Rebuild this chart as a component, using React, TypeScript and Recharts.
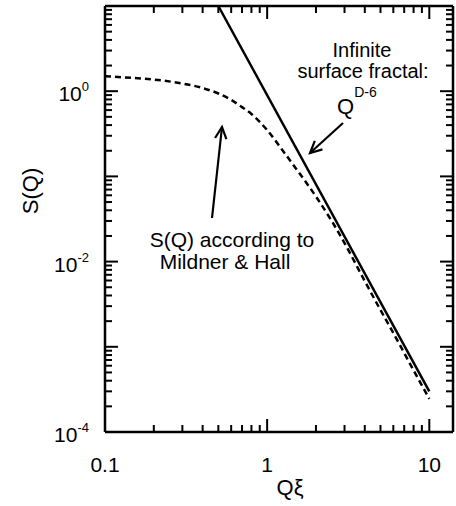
import * as R from 'recharts'
import { ComposedChart, Customized, Line, ReferenceLine, Scatter, XAxis, YAxis } from 'recharts'

// S(Q) after Mildner & Hall (dashed)
const dashQ = [0.1, 0.15, 0.2, 0.3, 0.4, 0.5, 0.6, 0.7, 0.8, 1.0, 1.25, 1.5, 2.0, 2.5, 3.0, 4.0, 5.0, 6.0, 8.0, 10]
const dashS = [1.5, 1.43, 1.37, 1.23, 1.09, 0.94, 0.79, 0.65, 0.54, 0.35, 0.2, 0.125, 0.058, 0.03, 0.0165, 0.0059, 0.0027, 0.00145, 0.00053, 0.000245]

// infinite surface fractal Q^(D-6), straight on log-log
const fractalQ = [0.5, 10]
const fractalS = [10, 0.0003]

const xTicks = [0.1, 0.2, 0.3, 0.4, 0.5, 0.6, 0.7, 0.8, 0.9, 1, 2, 3, 4, 5, 6, 7, 8, 9, 10]
const xLabels = [0.1, 1, 10]
const yTicks = [
  0.0001, 0.0002, 0.0003, 0.0004, 0.0005, 0.0006, 0.0007, 0.0008, 0.0009,
  0.001, 0.002, 0.003, 0.004, 0.005, 0.006, 0.007, 0.008, 0.009,
  0.01, 0.02, 0.03, 0.04, 0.05, 0.06, 0.07, 0.08, 0.09,
  0.1, 0.2, 0.3, 0.4, 0.5, 0.6, 0.7, 0.8, 0.9,
  1, 2, 3, 4, 5, 6, 7, 8, 9, 10,
]
const yLabels = [0.0001, 0.01, 1]

const X_DOMAIN = [0.1, 14]
const Y_DOMAIN = [0.0001, 10]

const dashData = dashQ.map((q, i) => ({ q, s: dashS[i] }))
const fractalData = fractalQ.map((q, i) => ({ q, s: fractalS[i] }))

const bottomTicks = xTicks.map((q) => ({ q, s: Y_DOMAIN[0], v: q }))
const topTicks = xTicks.map((q) => ({ q, s: Y_DOMAIN[1], v: q }))

const FONT = '"Liberation Sans", Arial, Helvetica, sans-serif'
const MAJOR = 13
const MINOR = 7
const MARGIN = { top: 6, right: 3, bottom: 0, left: 0 }
const Y_AXIS_W = 105
const X_AXIS_H = 74
const W = 456
const H = 506

const isDecade = (v: number) => {
  const l = Math.log10(v)
  return Math.abs(l - Math.round(l)) < 1e-6
}

const tickMark = (dx: number, dy: number) => (p: any) => {
  const len = isDecade(p.payload.v) ? MAJOR : MINOR
  return (
    <line x1={p.cx} y1={p.cy} x2={p.cx + dx * len} y2={p.cy + dy * len} stroke='#000' strokeWidth={2} />
  )
}

// plot box from the chart context when the hook exists
const usePlotBox: () => any = (R as any).usePlotArea ?? (R as any).useOffset ?? (() => null)

const SideTicks = () => {
  const box = usePlotBox()
  let left = MARGIN.left + Y_AXIS_W
  let top = MARGIN.top
  let width = W - MARGIN.right - left
  let height = H - MARGIN.bottom - X_AXIS_H - top
  if (box && typeof box.width === 'number' && typeof box.x === 'number') {
    left = box.x
    top = box.y
    width = box.width
    height = box.height
  }
  const right = left + width
  const ly0 = Math.log10(Y_DOMAIN[0])
  const ly1 = Math.log10(Y_DOMAIN[1])
  const yOf = (v: number) => top + height * (1 - (Math.log10(v) - ly0) / (ly1 - ly0))
  return (
    <g stroke='#000' strokeWidth={2}>
      <line x1={right} x2={right} y1={top} y2={top + height} strokeWidth={2.5} />
      {yTicks.map((v) => {
        const len = isDecade(v) ? MAJOR : MINOR
        const y = yOf(v)
        return (
          <g key={v}>
            <line x1={left} x2={left + len} y1={y} y2={y} />
            <line x1={right} x2={right - len} y1={y} y2={y} />
          </g>
        )
      })}
    </g>
  )
}

const BottomLabel = ({ x, y, payload }: any) => (
  <text x={x} y={y + 40} textAnchor='middle' fontSize={21} fontFamily={FONT} fill='#000'>
    {String(payload.value)}
  </text>
)

const LeftLabel = ({ x, y, payload }: any) => (
  <text x={x - 16} y={y + 10} textAnchor='end' fontSize={21} fontFamily={FONT} fill='#000'>
    <tspan>10</tspan>
    <tspan dy={-10} fontSize={13}>{String(Math.round(Math.log10(payload.value)))}</tspan>
  </text>
)

function arrow(x1: number, y1: number, x2: number, y2: number) {
  const dx = x1 - x2
  const dy = y1 - y2
  const d = Math.hypot(dx, dy)
  const ux = dx / d
  const uy = dy / d
  const a = (26 * Math.PI) / 180
  const L = 13
  const w1 = [x2 + L * (ux * Math.cos(a) - uy * Math.sin(a)), y2 + L * (ux * Math.sin(a) + uy * Math.cos(a))]
  const w2 = [x2 + L * (ux * Math.cos(-a) - uy * Math.sin(-a)), y2 + L * (ux * Math.sin(-a) + uy * Math.cos(-a))]
  return (
    <g stroke='#000' strokeWidth={2.2} fill='none'>
      <line x1={x1} y1={y1} x2={x2} y2={y2} />
      <polyline points={`${w1[0]},${w1[1]} ${x2},${y2} ${w2[0]},${w2[1]}`} />
    </g>
  )
}

const Notes = () => (
  <g fontFamily={FONT} fill='#000'>
    <text x={362} y={57} textAnchor='middle' fontSize={20}>Infinite</text>
    <text x={363} y={78} textAnchor='middle' fontSize={20}>surface fractal:</text>
    <text x={337} y={114} fontSize={22}>
      <tspan>Q</tspan>
      <tspan dy={-17} fontSize={14}>D-6</tspan>
    </text>
    {arrow(343, 123, 310, 153)}
    <text x={232} y={247} textAnchor='middle' fontSize={21}>S(Q) according to</text>
    <text x={225} y={269} textAnchor='middle' fontSize={21}>Mildner &amp; Hall</text>
    {arrow(212, 218, 222, 127)}
    <text x={30} y={191} textAnchor='middle' fontSize={22} transform='rotate(-90 30 191)' dominantBaseline='central'>
      S(Q)
    </text>
    <text x={290} y={495} textAnchor='middle' fontSize={22}>Qξ</text>
  </g>
)

const frame = { stroke: '#000', strokeWidth: 2.5 }

export default function App() {
  return (
    <div style={{ position: 'absolute', left: 0, top: 0, background: '#fff' }}>
      <ComposedChart width={W} height={H} margin={MARGIN}>
        <XAxis
          dataKey='q'
          type='number'
          scale='log'
          domain={X_DOMAIN}
          ticks={xLabels}
          interval={0}
          tickSize={0}
          tickMargin={0}
          height={X_AXIS_H}
          axisLine={frame}
          tickLine={false}
          tick={<BottomLabel />}
        />
        <YAxis
          dataKey='s'
          type='number'
          scale='log'
          domain={Y_DOMAIN}
          ticks={yLabels}
          interval={0}
          tickSize={0}
          tickMargin={0}
          width={Y_AXIS_W}
          axisLine={frame}
          tickLine={false}
          tick={<LeftLabel />}
        />
        <ReferenceLine y={Y_DOMAIN[1]} ifOverflow='visible' {...frame} />
        <Scatter data={bottomTicks} dataKey='s' shape={tickMark(0, -1)} isAnimationActive={false} />
        <Scatter data={topTicks} dataKey='s' shape={tickMark(0, 1)} isAnimationActive={false} />
        <Line
          data={dashData}
          dataKey='s'
          type='monotone'
          stroke='#000'
          strokeWidth={2.5}
          strokeDasharray='6 4'
          dot={false}
          isAnimationActive={false}
        />
        <Line
          data={fractalData}
          dataKey='s'
          type='linear'
          stroke='#000'
          strokeWidth={2.5}
          dot={false}
          isAnimationActive={false}
        />
        <Customized component={SideTicks} />
        <Customized component={Notes} />
      </ComposedChart>
    </div>
  )
}
